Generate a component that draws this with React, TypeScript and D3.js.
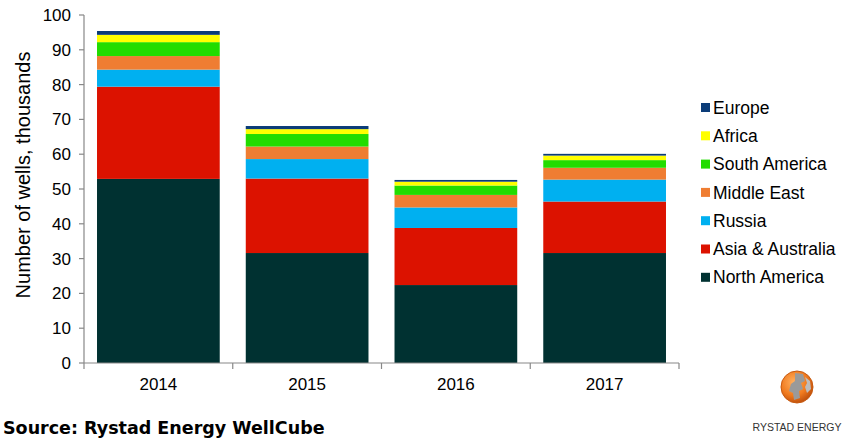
import { scaleBand, scaleLinear, stack } from "d3";

// data (thousands of wells)
const years = ["2014", "2015", "2016", "2017"];
const regions = [
  "North America",
  "Asia & Australia",
  "Russia",
  "Middle East",
  "South America",
  "Africa",
  "Europe",
];
const northAmerica = [52.9, 31.6, 22.4, 31.6];
const asiaAustralia = [26.5, 21.4, 16.4, 14.8];
const russia = [4.9, 5.6, 5.9, 6.3];
const middleEast = [3.9, 3.6, 3.6, 3.4];
const southAmerica = [4.0, 3.6, 2.7, 2.2];
const africa = [2.1, 1.4, 1.1, 1.3];
const europe = [1.1, 0.9, 0.5, 0.5];
const yTicks = [0, 10, 20, 30, 40, 50, 60, 70, 80, 90, 100];

const colors: Record<string, string> = {
  "North America": "#003131",
  "Asia & Australia": "#dc1200",
  Russia: "#00b0f0",
  "Middle East": "#ef7d32",
  "South America": "#22dc00",
  Africa: "#ffff00",
  Europe: "#0b3c78",
};

const seriesValues = [
  northAmerica,
  asiaAustralia,
  russia,
  middleEast,
  southAmerica,
  africa,
  europe,
];

const rows = years.map((year, i) => {
  const r: Record<string, number | string> = { year };
  regions.forEach((name, k) => (r[name] = seriesValues[k][i]));
  return r;
});

const W = 842;
const H = 443;
const left = 84;
const right = 679;
const top = 15;
const bottom = 363;
const font = "'Liberation Sans', Arial, sans-serif";

export default function App() {
  const x = scaleBand().domain(years).range([left, right]).paddingInner(0.175).paddingOuter(0.0875);
  const y = scaleLinear().domain([0, 100]).range([bottom, top]);
  const layers = stack<any>().keys(regions)(rows);
  const step = x.step();
  const legendOrder = [...regions].reverse();

  return (
    <svg
      width={W}
      height={H}
      style={{ position: "absolute", left: 0, top: 0, background: "#fff" }}
      fontFamily={font}
    >
      <rect width={W} height={H} fill="#fff" />

      {/* bars */}
      {layers.map((layer) => (
        <g key={layer.key} fill={colors[layer.key]}>
          {layer.map((d, i) => (
            <rect
              key={i}
              x={x(years[i])}
              width={x.bandwidth()}
              y={y(d[1])}
              height={y(d[0]) - y(d[1])}
            />
          ))}
        </g>
      ))}

      {/* y axis */}
      <line x1={left} x2={left} y1={top} y2={bottom} stroke="#888" strokeWidth={1.2} />
      {yTicks.map((t) => (
        <g key={t}>
          <line x1={left - 5} x2={left} y1={y(t)} y2={y(t)} stroke="#888" strokeWidth={1.2} />
          <text x={71} y={y(t)} dy="0.35em" textAnchor="end" fontSize={17} fill="#000">
            {t}
          </text>
        </g>
      ))}
      <text
        transform={`translate(30,175) rotate(-90)`}
        textAnchor="middle"
        fontSize={20}
        fill="#000"
      >
        Number of wells, thousands
      </text>

      {/* x axis */}
      <line x1={left} x2={right} y1={bottom} y2={bottom} stroke="#888" strokeWidth={1.2} />
      {[...years.map((yr) => (x(yr) as number) - (step - x.bandwidth()) / 2), right].map((px, i) => (
        <line key={i} x1={px} x2={px} y1={bottom} y2={bottom + 6} stroke="#888" strokeWidth={1.2} />
      ))}
      {years.map((yr) => (
        <text
          key={yr}
          x={(x(yr) as number) + x.bandwidth() / 2}
          y={390}
          textAnchor="middle"
          fontSize={17}
          fill="#000"
        >
          {yr}
        </text>
      ))}

      {/* legend */}
      {legendOrder.map((name, i) => (
        <g key={name} transform={`translate(701,${107.5 + i * 28.3})`}>
          <rect x={0} y={-4.5} width={9} height={9} fill={colors[name]} />
          <text x={12} y={0} dy="0.35em" fontSize={17.5} fill="#000">
            {name}
          </text>
        </g>
      ))}

      {/* source */}
      <text x={3} y={434} fontFamily="'DejaVu Sans', Verdana, sans-serif" fontWeight="bold" fontSize={17.5} fill="#000">
        Source: Rystad Energy WellCube
      </text>

      {/* logo */}
      <defs>
        <radialGradient id="logoGrad" cx="0.4" cy="0.35" r="0.7">
          <stop offset="0%" stopColor="#ffb060" />
          <stop offset="60%" stopColor="#f07a1e" />
          <stop offset="100%" stopColor="#b84a0a" />
        </radialGradient>
      </defs>
      <g transform="translate(797,387)">
        <circle r={16} fill="url(#logoGrad)" />
        <path d="M-2,-14 L6,-13 L8,-6 L4,-4 L6,2 L2,4 L3,11 L-3,13 L-4,6 L-8,4 L-6,-3 L-2,-6 Z" fill="#9a9a9a" />
        <path d="M8,-10 L13,-6 L14,2 L10,6 L8,0 L10,-4 Z" fill="#bdbdbd" />
        <circle r={16} fill="none" stroke="#c85a10" strokeWidth={1} />
      </g>
      <text
        x={797}
        y={431}
        fontSize={10.5}
        textAnchor="middle"
        fill="#333"
        fontFamily="'Liberation Sans Narrow', 'Liberation Sans', sans-serif"
      >
        RYSTAD ENERGY
      </text>
    </svg>
  );
}
